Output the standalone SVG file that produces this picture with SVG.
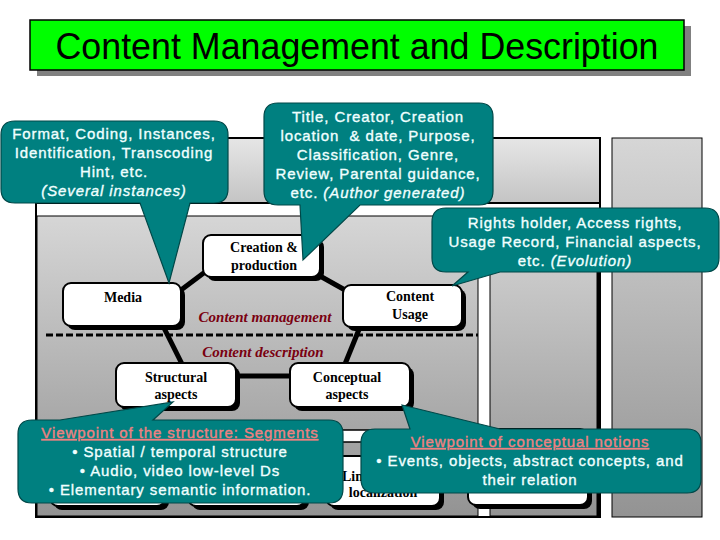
<svg xmlns="http://www.w3.org/2000/svg" width="720" height="540" viewBox="0 0 720 540">
<defs>
<linearGradient id="gp" x1="0" y1="0" x2="0" y2="1">
<stop offset="0" stop-color="#d6d6d6"/>
<stop offset="1" stop-color="#939393"/>
</linearGradient>
<linearGradient id="gb" x1="0" y1="0" x2="0" y2="1">
<stop offset="0" stop-color="#e6e6e6"/>
<stop offset="1" stop-color="#c4c4c4"/>
</linearGradient>
<style>
.node rect.sh{fill:#000}
.node rect.bx{fill:#fff;stroke:#000;stroke-width:2}
.nt{font-family:"Liberation Serif","Times New Roman",serif;font-size:14px;font-weight:bold;fill:#000;text-anchor:middle}
.lbl{font-family:"Liberation Serif","Times New Roman",serif;font-size:15px;font-style:italic;font-weight:bold;fill:#7a0010;text-anchor:middle}
.co{fill:#008080;stroke:#004848;stroke-width:1.2}
.ct{font-family:"Liberation Sans",Arial,sans-serif;font-size:15px;letter-spacing:0.9px;fill:#f0ffff;stroke:#f0ffff;stroke-width:0.35;text-anchor:middle}
.hd{fill:#f08080;stroke:#f08080;text-decoration:underline}
.conn line{stroke:#000;stroke-width:5}
</style>
</defs>
<rect width="720" height="540" fill="#fff"/>

<!-- title -->
<g id="title">
<rect x="37" y="26" width="654" height="50" fill="#808080"/>
<rect x="30" y="20" width="654" height="50" fill="#00ff00" stroke="#000" stroke-width="1.5"/>
<text x="357" y="59" font-family="Liberation Sans,Arial,sans-serif" font-size="36" text-anchor="middle" textLength="603" lengthAdjust="spacingAndGlyphs" fill="#000">Content Management and Description</text>
</g>

<!-- background panels -->
<g id="panels">
<rect x="612" y="138" width="90" height="379" fill="url(#gp)" stroke="#000" stroke-width="1"/>
<rect x="120" y="138" width="480" height="65" fill="url(#gb)" stroke="#000" stroke-width="2"/>
<rect x="36" y="203" width="564" height="314" fill="#fff" stroke="#000" stroke-width="2"/>
<rect x="37" y="216" width="441" height="300" fill="url(#gp)" stroke="#000" stroke-width="1"/>
<rect x="490" y="216" width="108" height="300" fill="url(#gp)" stroke="#000" stroke-width="1"/>
<line x1="598" y1="216" x2="598" y2="516" stroke="#000" stroke-width="3"/>
<line x1="46" y1="335" x2="478" y2="335" stroke="#000" stroke-width="3" stroke-dasharray="7 3"/>
</g>

<!-- bottom boxes (mostly hidden) -->
<g id="bottom-boxes">
<rect x="54" y="434" width="115" height="76" rx="8" fill="#000"/>
<rect x="50" y="430" width="115" height="76" rx="8" fill="#fff" stroke="#000" stroke-width="2"/>
<rect x="192" y="434" width="117" height="76" rx="8" fill="#000"/>
<rect x="188" y="430" width="117" height="76" rx="8" fill="#fff" stroke="#000" stroke-width="2"/>
<rect x="324" y="430" width="118" height="12" fill="#fff" stroke="#000" stroke-width="1.5"/>
<rect x="330" y="460" width="114" height="50" rx="8" fill="#000"/>
<rect x="326" y="456" width="114" height="50" rx="8" fill="#fff" stroke="#000" stroke-width="2"/>
<text x="342" y="481" font-family="Liberation Serif,Times New Roman,serif" font-size="14" font-weight="bold" fill="#000">Lin</text>
<text x="383" y="497" class="nt">localization</text>
<rect x="472" y="433" width="120" height="76" rx="8" fill="#000"/>
<rect x="468" y="429" width="120" height="76" rx="8" fill="#fff" stroke="#000" stroke-width="2"/>
</g>

<!-- connectors -->
<g id="connectors" class="conn">
<line x1="181" y1="290" x2="205" y2="272"/>
<line x1="320" y1="276" x2="345" y2="290"/>
<line x1="163" y1="326" x2="182" y2="364"/>
<line x1="360" y1="327" x2="345" y2="364"/>
<line x1="236" y1="376" x2="290" y2="376"/>
</g>

<!-- nodes -->
<g id="media" class="node">
<rect class="sh" x="67" y="287" width="118" height="43" rx="8"/>
<rect class="bx" x="63" y="283" width="118" height="43" rx="8"/>
<text class="nt" x="123" y="302">Media</text>
</g>
<g id="creation" class="node">
<rect class="sh" x="207" y="239" width="117" height="42" rx="8"/>
<rect class="bx" x="203" y="235" width="117" height="42" rx="8"/>
<text class="nt" x="264" y="252">Creation &amp;</text>
<text class="nt" x="264" y="270">production</text>
</g>
<g id="usage" class="node">
<rect class="sh" x="347" y="289" width="119" height="42" rx="8"/>
<rect class="bx" x="343" y="285" width="119" height="42" rx="8"/>
<text class="nt" x="410" y="301">Content</text>
<text class="nt" x="410" y="319">Usage</text>
</g>
<g id="structural" class="node">
<rect class="sh" x="120" y="367" width="120" height="44" rx="8"/>
<rect class="bx" x="116" y="363" width="120" height="44" rx="8"/>
<text class="nt" x="176" y="382">Structural</text>
<text class="nt" x="176" y="399">aspects</text>
</g>
<g id="conceptual" class="node">
<rect class="sh" x="294" y="367" width="120" height="44" rx="8"/>
<rect class="bx" x="290" y="363" width="120" height="44" rx="8"/>
<text class="nt" x="347" y="382">Conceptual</text>
<text class="nt" x="347" y="399">aspects</text>
</g>

<!-- region labels -->
<g id="labels">
<text class="lbl" x="265" y="322">Content management</text>
<text class="lbl" x="263" y="357">Content description</text>
</g>

<!-- callouts -->
<g id="callout-media">
<path class="co" d="M15,121 H214 Q228,121 228,135 V189 Q228,203 214,203 H190 L169,283 L140,203 H15 Q1,203 1,189 V135 Q1,121 15,121 Z"/>
<text class="ct" x="114" y="139">Format, Coding, Instances,</text>
<text class="ct" x="114" y="158">Identification, Transcoding</text>
<text class="ct" x="114" y="177">Hint, etc.</text>
<text class="ct" x="114" y="196" font-style="italic">(Several instances)</text>
</g>
<g id="callout-creation">
<path class="co" d="M278,103 H479 Q493,103 493,117 V191 Q493,205 479,205 H360 L303,260 L300,205 H278 Q264,205 264,191 V117 Q264,103 278,103 Z"/>
<text class="ct" x="378" y="122">Title, Creator, Creation</text>
<text class="ct" x="378" y="141" xml:space="preserve">location  &amp; date, Purpose,</text>
<text class="ct" x="378" y="160">Classification, Genre,</text>
<text class="ct" x="378" y="179">Review, Parental guidance,</text>
<text class="ct" x="378" y="198">etc. <tspan font-style="italic">(Author generated)</tspan></text>
</g>
<g id="callout-usage">
<path class="co" d="M446,208 H705 Q719,208 719,222 V258 Q719,272 705,272 H500 L452,286 L468,272 H446 Q432,272 432,258 V222 Q432,208 446,208 Z"/>
<text class="ct" x="575" y="228">Rights holder, Access rights,</text>
<text class="ct" x="575" y="247">Usage Record, Financial aspects,</text>
<text class="ct" x="575" y="266">etc. <tspan font-style="italic">(Evolution)</tspan></text>
</g>
<g id="callout-structural">
<path class="co" d="M32,420 H60 L173,402 L153,420 H329 Q343,420 343,434 V489 Q343,503 329,503 H32 Q18,503 18,489 V434 Q18,420 32,420 Z"/>
<text class="ct hd" x="180" y="438">Viewpoint of the structure: Segments</text>
<text class="ct" x="180" y="457">• Spatial / temporal structure</text>
<text class="ct" x="180" y="476">• Audio, video low-level Ds</text>
<text class="ct" x="180" y="495">• Elementary semantic information.</text>
</g>
<g id="callout-conceptual">
<path class="co" d="M375,429 H410 L402,405 L500,429 H687 Q701,429 701,443 V479 Q701,493 687,493 H375 Q361,493 361,479 V443 Q361,429 375,429 Z"/>
<text class="ct hd" x="530" y="447">Viewpoint of conceptual notions</text>
<text class="ct" x="530" y="466">• Events, objects, abstract concepts, and</text>
<text class="ct" x="530" y="485">their relation</text>
</g>
</svg>
